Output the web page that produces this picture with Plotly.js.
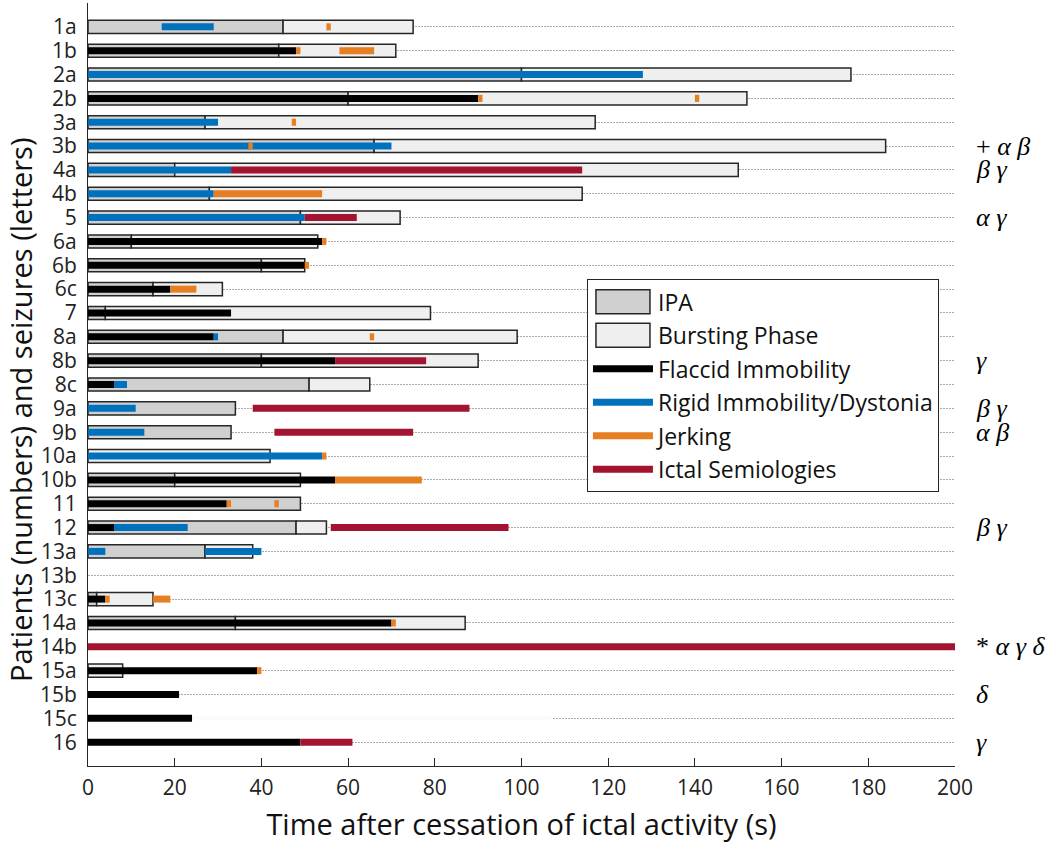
<!DOCTYPE html>
<html>
<head>
<meta charset="utf-8">
<script src="https://cdn.plot.ly/plotly-3.0.1.min.js"></script>
<style>html,body{margin:0;padding:0;background:#fff;}#chart{width:1050px;height:848px;}</style>
</head>
<body>
<div id="chart"></div>
<script>
// ---- categories (top to bottom) ----
const rows = ['1a','1b','2a','2b','3a','3b','4a','4b','5','6a','6b','6c','7','8a','8b','8c','9a','9b','10a','10b','11','12','13a','13b','13c','14a','14b','15a','15b','15c','16'];

// ---- phase boxes (seconds) ----
const ipaEnd   = [45,44,100,60,27,66,20,28,49,10,40,15,4,45,40,51,34,33,0,20,49,48,27,null,2,34,null,0,null,null,null];
const burstEnd = [75,71,176,152,117,184,150,114,72,53,50,31,79,99,90,65,34,33,42,49,49,55,38,null,15,87,null,8,null,null,null];

// ---- semiology segments ----
const flaccidRow   = ['1b','2b','6a','6b','6c','7','8a','8b','8c','10b','11','12','13c','14a','15a','15b','15c','16'];
const flaccidStart = [0,0,0,0,0,0,0,0,0,0,0,0,0,0,0,0,0,0];
const flaccidEnd   = [48,90,54,50,19,33,29,57,6,57,32,6,4,70,39,21,24,49];

const rigidRow   = ['1a','2a','3a','3b','4a','4b','5','8a','8c','9a','9b','10a','12','13a','13a'];
const rigidStart = [17,0,0,0,0,0,0,29,6,0,0,0,6,0,27];
const rigidEnd   = [29,128,30,70,33,29,50,30,9,11,13,54,23,4,40];

const jerkRow   = ['1a','1b','1b','2b','2b','3a','3b','4b','6a','6b','6c','8a','10a','10b','11','11','13c','13c','14a','15a'];
const jerkStart = [55,48,58,90,140,47,37,29,54,50,19,65,54,57,32,43,4,15,70,39];
const jerkEnd   = [56,49,66,91,141,48,38,54,55,51,25,66,55,77,33,44,5,19,71,40];

const ictalRow   = ['4a','5','8b','9a','9b','12','14b','16'];
const ictalStart = [33,50,57,38,43,56,0,49];
const ictalEnd   = [114,62,78,88,75,97,200,61];

// faint (near-white) segment in 15c that hides the grid line
const faintRow = ['15c'];
const faintStart = [24];
const faintEnd = [107];

// ---- right-hand notes ----
const noteRow  = ['3b','4a','5','8b','9a','9b','12','14b','15b','16'];
const noteText = ['+ <i>α β</i>','<i>β γ</i>','<i>α γ</i>','<i>γ</i>','<i>β γ</i>','<i>α β</i>','<i>β γ</i>','* <i>α γ δ</i>','<i>δ</i>','<i>γ</i>'];

const xTicks = [0,20,40,60,80,100,120,140,160,180,200];

// ---- build traces ----
function segTrace(name, rowsArr, s, e, color, width, showlegend) {
  const x = [], y = [];
  for (let i = 0; i < rowsArr.length; i++) {
    x.push(s[i], e[i], null);
    y.push(rowsArr[i], rowsArr[i], null);
  }
  return {type:'scatter', mode:'lines', name:name, x:x, y:y,
          line:{color:color, width:width}, hoverinfo:'skip',
          showlegend:showlegend, legendgroup:name, connectgaps:false};
}

const ipaY=[], ipaX=[], burstY=[], burstX=[], burstBase=[];
for (let i = 0; i < rows.length; i++) {
  if (ipaEnd[i] !== null && ipaEnd[i] > 0) { ipaY.push(rows[i]); ipaX.push(ipaEnd[i]); }
  if (burstEnd[i] !== null && burstEnd[i] - (ipaEnd[i]||0) > 0) {
    burstY.push(rows[i]); burstBase.push(ipaEnd[i]||0); burstX.push(burstEnd[i]-(ipaEnd[i]||0));
  }
}

const boxLine = {color:'#262626', width:1.5};
const traces = [
  {type:'bar', orientation:'h', name:'IPA', y:ipaY, x:ipaX, base:0, width:0.55,
   marker:{color:'#D0D0D0', line:boxLine}, hoverinfo:'skip', legendgroup:'IPA'},
  {type:'bar', orientation:'h', name:'Bursting Phase', y:burstY, x:burstX, base:burstBase, width:0.55,
   marker:{color:'#EFEFEF', line:boxLine}, hoverinfo:'skip', legendgroup:'Bursting'},
  segTrace('faint', faintRow, faintStart, faintEnd, '#FBFBFB', 4, false),
  segTrace('Flaccid Immobility', flaccidRow, flaccidStart, flaccidEnd, '#000000', 7, true),
  segTrace('Rigid Immobility/Dystonia', rigidRow, rigidStart, rigidEnd, '#0072BD', 7, true),
  segTrace('Jerking', jerkRow, jerkStart, jerkEnd, '#E67E22', 7, true),
  segTrace('Ictal Semiologies', ictalRow, ictalStart, ictalEnd, '#A2142F', 7, true)
];

const annotations = noteRow.map((r, i) => ({
  xref:'paper', yref:'y', x:1.022, y:rows.indexOf(r), xanchor:'left', yanchor:'middle',
  text:noteText[i], showarrow:false,
  font:{family:'Liberation Serif, DejaVu Serif, serif', size:26, color:'#000'}
}));
// y-axis title as a rotated annotation (placed like the reference)
annotations.push({
  xref:'paper', yref:'paper', x:-0.078, y:0.467, xanchor:'center', yanchor:'middle',
  textangle:-90, showarrow:false, borderpad:0,
  text:'Patients (numbers) and seizures (letters)',
  font:{family:'Open Sans, sans-serif', size:29, color:'#111'}
});

const layout = {
  width:1050, height:848,
  margin:{l:88, r:95, t:3, b:82},
  paper_bgcolor:'#ffffff', plot_bgcolor:'#ffffff',
  barmode:'overlay',
  showlegend:true,
  legend:{x:0.5755, y:0.638, xanchor:'left', yanchor:'top', bgcolor:'#ffffff',
          bordercolor:'#262626', borderwidth:1, itemwidth:60, tracegroupgap:0.6,
          font:{family:'Open Sans, sans-serif', size:23, color:'#111'},
          traceorder:'grouped'},
  xaxis:{range:[0,200], tickvals:xTicks, ticktext:xTicks.map(String),
         ticks:'inside', ticklen:8, tickcolor:'#262626', tickwidth:1,
         showline:true, linecolor:'#262626', linewidth:1, showgrid:false, zeroline:false,
         ticklabelstandoff:3,
         tickfont:{family:'Open Sans, sans-serif', size:21, color:'#222'},
         title:{text:'Time after cessation of ictal activity (s)', standoff:14,
                font:{family:'Open Sans, sans-serif', size:29, color:'#111'}}},
  yaxis:{type:'category', categoryorder:'array', categoryarray:rows, range:[31,-1],
         tickvals:rows, ticktext:rows,
         showline:true, linecolor:'#262626', linewidth:1, ticks:'', ticklabelstandoff:6,
         showgrid:true, gridcolor:'#ABABAB', gridwidth:1, griddash:'2px,1px', zeroline:false,
         tickfont:{family:'Open Sans, sans-serif', size:21, color:'#222'}},
  annotations:annotations
};

function fixSwatches(){
  document.querySelectorAll('.legendpoints path').forEach(function(p){
    var d = (p.getAttribute('d') || '').replace(/\s/g,'');
    if (d === 'M6,6H-6V-6H6Z' || p.classList.contains('legendbar')) {
      p.setAttribute('d','M27,12H-27V-12H27Z');
    }
  });
}
Plotly.newPlot('chart', traces, layout, {staticPlot:true, displayModeBar:false}).then(function(gd){
  fixSwatches();
  if (gd.on) gd.on('plotly_afterplot', fixSwatches);
  setTimeout(fixSwatches, 30);
  setTimeout(fixSwatches, 200);
});
</script>
</body>
</html>
